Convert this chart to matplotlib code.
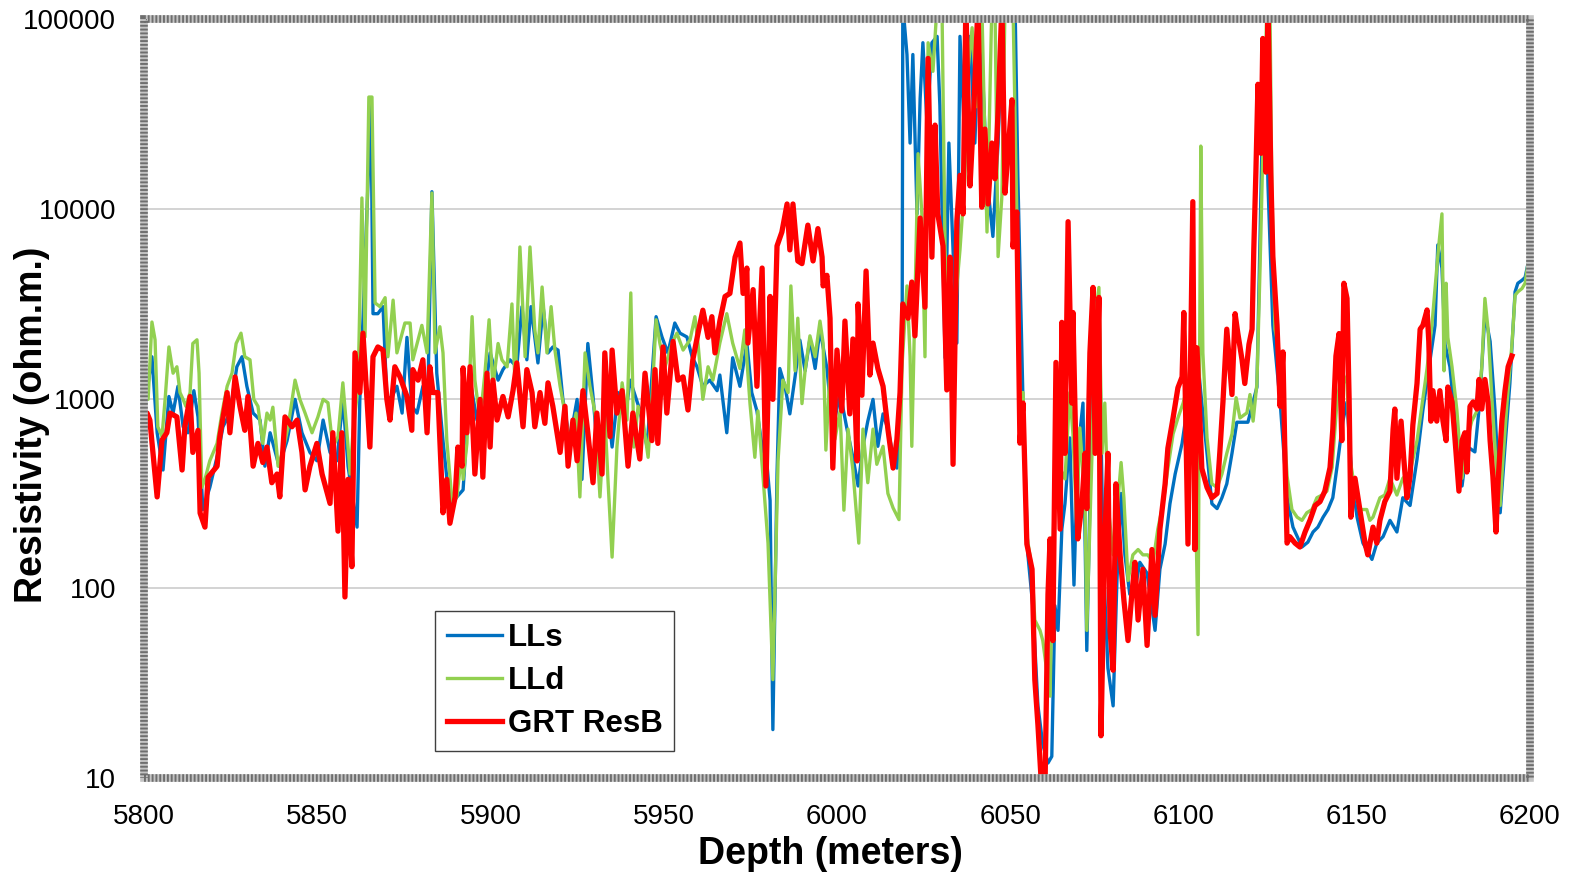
import matplotlib
matplotlib.use("Agg")
import matplotlib.pyplot as plt
from matplotlib.patches import Rectangle
from matplotlib.ticker import FixedLocator, FuncFormatter

# laterolog shallow (LLs)
lls_depth = [5800.0, 5802.3, 5803.8, 5805.5, 5807.2, 5808.4, 5809.8, 5811.3, 5812.7, 5814.4,
             5815.6, 5817.0, 5819.0, 5821.4, 5822.8, 5824.8, 5826.8, 5828.3, 5829.7, 5831.5,
             5833.5, 5834.9, 5836.4, 5839.0, 5841.3, 5843.6, 5845.6, 5847.9, 5849.9, 5851.7,
             5853.7, 5855.7, 5857.4, 5858.9, 5861.5, 5862.3, 5863.2, 5865.5, 5866.1, 5867.5,
             5869.0, 5870.1, 5871.6, 5873.0, 5874.5, 5875.9, 5877.3, 5878.8, 5880.5, 5881.9,
             5883.1, 5884.5, 5886.3, 5888.3, 5890.3, 5892.1, 5894.1, 5896.1, 5898.4, 5899.9,
             5902.2, 5903.6, 5905.6, 5907.6, 5909.1, 5910.5, 5911.7, 5913.7, 5915.2, 5916.6,
             5918.0, 5919.5, 5920.9, 5922.9, 5925.0, 5926.4, 5928.1, 5929.6, 5931.6, 5933.6,
             5935.1, 5936.8, 5938.8, 5940.3, 5943.1, 5945.2, 5947.8, 5949.5, 5951.2, 5953.2,
             5954.7, 5956.7, 5958.2, 5959.6, 5961.3, 5963.3, 5965.4, 5966.2, 5968.2, 5969.9,
             5972.0, 5974.0, 5975.4, 5976.9, 5978.4, 5979.8, 5980.7, 5981.5, 5982.7, 5983.5,
             5985.0, 5986.4, 5987.9, 5989.3, 5990.8, 5992.2, 5993.7, 5995.1, 5997.1, 5998.8,
             6000.9, 6002.9, 6004.6, 6006.1, 6007.5, 6008.9, 6010.4, 6011.8, 6013.3, 6014.7,
             6016.2, 6017.3, 6018.8, 6019.0, 6020.2, 6021.1, 6021.9, 6023.1, 6024.0, 6024.8,
             6026.0, 6027.4, 6028.9, 6029.7, 6031.2, 6032.3, 6033.5, 6034.6, 6035.5, 6036.9,
             6038.4, 6039.8, 6041.2, 6043.3, 6045.0, 6046.5, 6047.9, 6049.4, 6051.4, 6052.2,
             6053.7, 6055.1, 6056.5, 6058.0, 6059.4, 6060.9, 6062.0, 6062.9, 6063.8, 6064.9,
             6065.8, 6067.2, 6068.4, 6069.5, 6071.0, 6072.1, 6073.6, 6074.5, 6075.6, 6076.8,
             6078.2, 6079.7, 6080.8, 6082.0, 6083.1, 6084.5, 6086.0, 6087.4, 6089.5, 6091.8,
             6093.2, 6094.7, 6096.1, 6097.6, 6099.6, 6101.0, 6102.4, 6103.9, 6105.3, 6106.8,
             6108.2, 6109.7, 6111.1, 6112.5, 6114.0, 6115.4, 6116.9, 6118.6, 6121.2, 6122.6,
             6123.5, 6124.4, 6125.8, 6127.9, 6129.9, 6131.6, 6134.2, 6135.9, 6137.4, 6138.8,
             6140.3, 6141.7, 6143.1, 6144.6, 6146.0, 6147.2, 6148.6, 6150.1, 6151.8, 6154.4,
             6155.8, 6157.6, 6159.6, 6161.6, 6163.3, 6165.4, 6167.4, 6169.1, 6171.1, 6172.6,
             6173.4, 6174.6, 6175.5, 6176.9, 6178.4, 6180.4, 6181.8, 6184.1, 6185.5, 6187.0,
             6188.5, 6189.9, 6191.4, 6192.8, 6194.2, 6195.7, 6196.5, 6197.7, 6198.6, 6199.4,
             6200.5]
lls_ohmm = [838, 1660, 660, 420, 1025, 838, 1160, 710, 660, 1100,
            800, 260, 340, 520, 710, 838, 1470, 1660, 1160, 838,
            770, 440, 660, 440, 600, 990, 660, 520, 470, 770,
            520, 470, 990, 440, 210, 990, 2600, 36000, 2800, 2800,
            3050, 990, 1025, 1160, 838, 2100, 910, 838, 1160, 990,
            12300, 1360, 600, 265, 303, 330, 1250, 770, 1075, 1740,
            1250, 1420, 1600, 1470, 3050, 1600, 3050, 1540, 3050, 1740,
            1870, 1800, 990, 600, 990, 375, 1950, 1025, 375, 990,
            555, 1075, 770, 1250, 870, 555, 2700, 2110, 1740, 2500,
            2210, 2110, 1660, 1470, 1160, 1250, 1100, 1330, 660, 1640,
            1160, 1960, 1075, 860, 560, 450, 290, 18, 400, 1440,
            1160, 830, 1300, 2030, 1400, 2060, 1440, 2320, 1440, 690,
            1075, 690, 490, 346, 560, 760, 990, 560, 830, 690,
            500, 430, 1640, 120000, 65000, 22200, 65000, 9400, 38000, 75000,
            27600, 75000, 81000, 35000, 1640, 22200, 6070, 1960, 81000, 22200,
            81000, 22200, 120000, 14400, 7150, 22200, 120000, 120000, 120000, 14900,
            946, 150, 81, 24, 15, 12, 13, 81, 60, 205,
            279, 620, 104, 514, 946, 47, 946, 3250, 3300, 150,
            38, 24, 110, 316, 150, 93, 97, 137, 120, 60,
            126, 171, 279, 400, 580, 870, 1200, 1740, 946, 514,
            279, 263, 300, 355, 514, 750, 750, 750, 1150, 19600,
            63000, 13200, 2430, 960, 300, 210, 165, 175, 198, 210,
            237, 260, 300, 478, 760, 960, 380, 237, 173, 142,
            173, 187, 228, 198, 300, 273, 478, 870, 1560, 2430,
            6450, 4870, 1930, 1470, 760, 346, 560, 523, 960, 2800,
            2000, 870, 250, 560, 1200, 3650, 4050, 4200, 4350, 5100,
            2100]

# laterolog deep (LLd)
lld_depth = [5800.0, 5800.3, 5801.2, 5802.3, 5803.2, 5804.0, 5805.2, 5806.1, 5807.2, 5808.4,
             5809.5, 5810.4, 5811.3, 5812.1, 5813.3, 5814.1, 5815.3, 5815.9, 5816.7, 5817.6,
             5819.0, 5821.1, 5822.5, 5824.0, 5825.4, 5826.6, 5828.0, 5829.1, 5830.6, 5831.7,
             5832.9, 5834.3, 5835.5, 5836.4, 5837.2, 5838.7, 5840.1, 5841.6, 5843.6, 5845.0,
             5846.5, 5848.5, 5850.2, 5851.7, 5853.1, 5854.5, 5856.0, 5857.4, 5858.3, 5859.5,
             5860.3, 5861.8, 5862.9, 5863.8, 5864.9, 5865.8, 5866.7, 5868.1, 5869.6, 5870.4,
             5871.9, 5873.0, 5875.3, 5876.8, 5877.6, 5880.2, 5881.7, 5883.1, 5884.0, 5885.4,
             5886.3, 5887.4, 5888.9, 5890.3, 5891.8, 5892.1, 5893.2, 5894.7, 5895.5, 5897.0,
             5898.4, 5899.6, 5900.7, 5902.2, 5903.3, 5904.8, 5906.2, 5907.1, 5908.5, 5910.0,
             5911.4, 5912.8, 5913.7, 5914.9, 5916.3, 5917.5, 5918.6, 5920.1, 5921.5, 5922.9,
             5924.7, 5925.8, 5927.3, 5928.7, 5930.2, 5931.6, 5933.0, 5933.9, 5935.1, 5936.5,
             5938.0, 5939.4, 5940.5, 5941.4, 5942.6, 5944.0, 5945.5, 5946.6, 5947.8, 5948.9,
             5950.4, 5952.4, 5953.8, 5955.6, 5957.6, 5959.0, 5959.9, 5961.3, 5962.8, 5964.2,
             5966.2, 5968.2, 5969.9, 5972.0, 5973.4, 5974.9, 5976.3, 5977.2, 5978.6, 5980.1,
             5981.5, 5983.0, 5984.4, 5985.9, 5986.7, 5987.9, 5988.7, 5989.9, 5990.8, 5992.2,
             5993.7, 5995.1, 5996.0, 5996.8, 5998.0, 5999.4, 6000.9, 6002.0, 6003.2, 6004.6,
             6006.3, 6007.5, 6008.9, 6010.4, 6011.5, 6013.3, 6014.7, 6016.2, 6017.9, 6018.8,
             6020.2, 6021.1, 6021.6, 6022.5, 6023.4, 6024.5, 6025.4, 6026.3, 6027.7, 6028.9,
             6030.3, 6031.2, 6032.0, 6033.5, 6034.6, 6035.5, 6036.9, 6037.8, 6039.0, 6040.4,
             6041.8, 6043.3, 6044.7, 6045.6, 6046.5, 6047.6, 6048.5, 6049.9, 6050.8, 6051.9,
             6052.8, 6053.7, 6054.8, 6056.3, 6057.1, 6058.6, 6059.4, 6061.5, 6062.3, 6063.5,
             6064.4, 6065.8, 6067.2, 6068.1, 6069.2, 6070.1, 6071.6, 6072.1, 6073.6, 6074.5,
             6075.6, 6076.5, 6077.3, 6078.2, 6079.7, 6080.8, 6082.0, 6082.8, 6084.0, 6085.4,
             6086.9, 6088.3, 6089.7, 6091.2, 6092.6, 6094.1, 6095.5, 6097.0, 6098.4, 6099.9,
             6101.3, 6102.7, 6104.2, 6105.0, 6105.6, 6106.8, 6108.2, 6109.7, 6111.1, 6112.5,
             6114.0, 6115.2, 6116.3, 6118.3, 6119.2, 6120.1, 6121.2, 6122.1, 6122.9, 6124.1,
             6125.0, 6125.5, 6126.4, 6127.3, 6128.4, 6129.9, 6131.3, 6132.8, 6134.2, 6135.6,
             6137.1, 6138.5, 6140.0, 6141.4, 6142.9, 6144.3, 6145.7, 6147.2, 6148.1, 6149.5,
             6150.9, 6152.9, 6153.8, 6154.7, 6156.7, 6158.1, 6159.6, 6161.6, 6163.3, 6165.4,
             6167.4, 6168.8, 6170.3, 6171.7, 6173.1, 6173.7, 6174.6, 6175.2, 6175.8, 6176.3,
             6177.5, 6178.9, 6180.4, 6181.8, 6183.2, 6185.0, 6186.1, 6187.0, 6187.9, 6189.0,
             6190.5, 6191.4, 6192.2, 6193.4, 6194.8, 6195.7, 6196.5, 6197.7, 6198.6, 6199.4,
             6200.5]
lld_ohmm = [910, 1025, 990, 2530, 2040, 710, 630, 990, 1870, 1360,
            1470, 1075, 990, 910, 1075, 1950, 2040, 1360, 340, 375,
            470, 580, 838, 1160, 1360, 1950, 2210, 1660, 1600, 990,
            910, 580, 838, 770, 900, 440, 530, 710, 1250, 990,
            838, 660, 800, 990, 950, 555, 630, 1210, 770, 400,
            660, 1160, 11400, 2110, 38800, 38800, 3190, 3050, 3400, 1660,
            3300, 1740, 2500, 2500, 1600, 2430, 1740, 12100, 1740, 2390,
            1740, 600, 290, 303, 530, 375, 580, 2700, 1250, 770,
            1360, 2600, 1160, 1950, 1600, 1470, 3150, 1160, 6290, 1660,
            6290, 2300, 1740, 3870, 1740, 3050, 1800, 1160, 838, 555,
            838, 303, 1740, 1160, 838, 303, 838, 375, 146, 555,
            1210, 770, 3600, 555, 910, 770, 490, 990, 2600, 1950,
            1470, 1950, 2210, 1800, 2040, 2700, 1950, 990, 1470, 1250,
            1960, 2800, 1960, 1440, 2300, 940, 490, 860, 400, 173,
            33, 469, 1250, 1075, 3920, 1400, 2650, 940, 1400, 2140,
            1660, 2560, 1960, 535, 1400, 610, 860, 258, 690, 420,
            173, 690, 360, 690, 450, 560, 316, 265, 230, 1520,
            3920, 1660, 560, 3150, 19500, 9400, 1660, 75000, 53000, 120000,
            120000, 6070, 2560, 1660, 3920, 6070, 14400, 53000, 90000, 34500,
            120000, 7540, 120000, 120000, 5600, 11700, 120000, 120000, 120000, 9400,
            1075, 1075, 190, 126, 68, 60, 53, 27, 150, 1075,
            428, 377, 1075, 650, 215, 700, 280, 60, 514, 2690,
            3850, 514, 946, 280, 150, 250, 460, 300, 110, 150,
            160, 150, 150, 137, 205, 279, 428, 650, 790, 946,
            1200, 1850, 57, 21400, 1740, 620, 355, 340, 400, 514,
            650, 1010, 790, 840, 1050, 760, 1200, 4870, 19600, 120000,
            100000, 13000, 2320, 1930, 1200, 390, 260, 237, 228, 250,
            260, 300, 310, 325, 433, 960, 1400, 1200, 478, 325,
            260, 260, 228, 237, 300, 310, 380, 310, 380, 410,
            600, 910, 1440, 2430, 4870, 6450, 9400, 1400, 4050, 2100,
            1470, 870, 380, 600, 760, 880, 1470, 3370, 2320, 1010,
            380, 273, 478, 960, 1930, 3500, 3650, 3800, 4050, 5100,
            1930]

# GRT ResB
grt_depth = [5800.0, 5800.9, 5801.7, 5803.8, 5805.2, 5806.6, 5807.5, 5809.5, 5811.0, 5811.8,
             5813.3, 5814.1, 5815.6, 5816.2, 5817.6, 5818.5, 5821.1, 5821.9, 5824.0, 5824.8,
             5826.3, 5827.7, 5829.1, 5830.0, 5831.5, 5832.9, 5834.3, 5835.5, 5836.9, 5838.4,
             5839.2, 5840.7, 5842.7, 5844.2, 5845.6, 5846.5, 5847.9, 5849.9, 5851.4, 5853.7,
             5854.5, 5856.0, 5857.1, 5858.0, 5858.9, 5860.0, 5860.9, 5862.3, 5863.2, 5865.2,
             5866.1, 5867.5, 5869.0, 5870.1, 5871.0, 5872.4, 5873.9, 5875.9, 5877.3, 5877.6,
             5879.1, 5880.5, 5881.7, 5882.5, 5883.4, 5884.8, 5886.3, 5887.4, 5888.3, 5889.8,
             5890.6, 5891.8, 5892.1, 5893.2, 5894.1, 5895.5, 5897.0, 5897.8, 5899.0, 5899.9,
             5900.7, 5901.9, 5903.6, 5905.1, 5906.5, 5907.6, 5909.4, 5910.5, 5912.0, 5912.8,
             5914.3, 5915.7, 5916.6, 5918.0, 5920.1, 5921.5, 5922.4, 5923.8, 5925.0, 5926.7,
             5928.1, 5929.6, 5930.7, 5932.2, 5933.0, 5934.5, 5935.1, 5936.5, 5938.0, 5939.7,
             5941.1, 5943.1, 5944.6, 5946.6, 5947.5, 5948.3, 5949.8, 5950.9, 5952.7, 5954.1,
             5955.6, 5957.0, 5958.4, 5959.9, 5961.3, 5962.8, 5963.9, 5964.8, 5966.2, 5967.7,
             5969.1, 5970.6, 5972.0, 5972.9, 5974.0, 5974.3, 5975.8, 5976.9, 5978.4, 5979.5,
             5980.7, 5981.5, 5982.7, 5984.1, 5985.6, 5986.4, 5987.3, 5988.7, 5989.9, 5991.6,
             5993.1, 5994.5, 5995.7, 5996.0, 5997.1, 5998.0, 5998.8, 6000.0, 6001.4, 6002.3,
             6003.7, 6004.6, 6005.8, 6006.1, 6007.2, 6008.4, 6009.5, 6010.4, 6011.8, 6013.3,
             6014.7, 6016.2, 6017.3, 6018.2, 6019.0, 6020.5, 6021.6, 6022.5, 6024.0, 6025.4,
             6026.3, 6027.4, 6028.3, 6029.1, 6030.6, 6031.7, 6032.6, 6033.5, 6034.6, 6035.5,
             6036.4, 6037.2, 6038.4, 6039.3, 6040.7, 6041.8, 6042.7, 6043.6, 6044.7, 6045.6,
             6046.5, 6047.6, 6048.5, 6049.4, 6050.5, 6050.8, 6051.9, 6052.8, 6053.7, 6054.8,
             6056.3, 6057.1, 6058.0, 6059.2, 6060.0, 6060.9, 6061.5, 6062.3, 6063.2, 6064.4,
             6064.9, 6065.8, 6066.7, 6067.8, 6068.1, 6069.5, 6070.7, 6071.6, 6072.1, 6073.0,
             6073.9, 6074.5, 6075.6, 6076.2, 6077.3, 6078.2, 6078.8, 6079.7, 6080.5, 6081.7,
             6082.8, 6084.0, 6085.1, 6086.0, 6086.9, 6088.3, 6089.5, 6090.9, 6091.8, 6093.2,
             6094.7, 6095.5, 6097.0, 6098.4, 6099.6, 6100.1, 6101.3, 6102.7, 6103.3, 6103.9,
             6105.3, 6106.8, 6108.2, 6109.7, 6110.5, 6111.4, 6112.5, 6114.0, 6114.9, 6115.7,
             6116.9, 6117.7, 6118.9, 6119.8, 6120.3, 6120.9, 6121.5, 6122.4, 6122.9, 6123.8,
             6124.4, 6125.2, 6125.8, 6127.0, 6127.9, 6128.7, 6129.3, 6129.9, 6130.7, 6132.2,
             6133.6, 6135.1, 6136.5, 6138.0, 6139.4, 6140.8, 6142.3, 6143.1, 6144.0, 6144.9,
             6145.7, 6146.3, 6147.2, 6147.8, 6148.3, 6149.5, 6150.9, 6152.4, 6153.2, 6154.7,
             6155.8, 6156.7, 6158.1, 6159.6, 6160.5, 6161.0, 6161.6, 6162.8, 6163.6, 6164.5,
             6165.4, 6166.2, 6167.4, 6168.3, 6169.1, 6170.3, 6170.8, 6171.4, 6172.0, 6173.1,
             6174.0, 6174.9, 6175.8, 6176.3, 6177.5, 6178.4, 6179.5, 6180.4, 6181.2, 6181.8,
             6182.7, 6183.6, 6184.7, 6185.3, 6186.1, 6187.0, 6187.9, 6188.5, 6189.3, 6190.2,
             6190.8, 6191.9, 6192.8, 6193.7, 6194.8]
grt_ohmm = [604, 838, 770, 303, 604, 660, 838, 800, 420, 710,
            1025, 520, 680, 249, 210, 385, 440, 630, 1075, 660,
            1300, 910, 680, 1025, 440, 580, 460, 555, 360, 400,
            303, 800, 710, 770, 520, 330, 440, 580, 400, 280,
            660, 200, 660, 90, 375, 130, 1740, 1075, 2210, 555,
            1660, 1870, 1800, 990, 770, 1470, 1300, 1025, 680, 1420,
            1250, 1600, 660, 1470, 1075, 1075, 250, 375, 220, 303,
            555, 440, 1450, 660, 1470, 400, 990, 385, 1360, 555,
            1250, 770, 1025, 800, 1100, 1540, 710, 1420, 1075, 710,
            1075, 740, 1210, 910, 520, 910, 440, 770, 470, 1100,
            660, 360, 838, 400, 1740, 630, 1800, 838, 1100, 440,
            838, 480, 1360, 600, 1420, 580, 1870, 838, 2000, 1250,
            1300, 870, 1600, 2210, 2920, 2100, 2700, 1740, 2560, 3450,
            3580, 5560, 6600, 3580, 4870, 1960, 3750, 1160, 4870, 346,
            3450, 990, 6370, 7540, 10600, 6070, 10600, 5310, 5140, 8200,
            5310, 7860, 5560, 3920, 4460, 2650, 430, 1800, 860, 2560,
            830, 2060, 469, 3150, 1040, 4700, 1330, 1960, 1440, 1160,
            690, 430, 610, 1075, 3150, 2650, 4110, 2140, 8930, 3030,
            62000, 5560, 27600, 9400, 6370, 1110, 5560, 450, 8600, 15000,
            9400, 120000, 13200, 27600, 120000, 10200, 26300, 10600, 22200, 14400,
            32800, 120000, 12100, 20400, 37500, 6290, 9620, 582, 946, 171,
            126, 33, 19, 8, 8, 93, 182, 53, 1550, 205,
            2520, 514, 8550, 946, 2840, 182, 279, 514, 263, 1740,
            3850, 514, 3410, 16.7, 182, 514, 60, 37, 355, 151,
            87, 53, 93, 137, 68, 126, 50, 160, 72, 205,
            355, 547, 790, 1140, 1300, 2840, 171, 10900, 160, 1850,
            428, 340, 300, 316, 523, 960, 2320, 1050, 2800, 2200,
            1600, 1200, 1930, 2320, 6150, 15600, 45300, 19600, 79000, 15600,
            120000, 15600, 5600, 2430, 910, 1760, 478, 173, 187, 173,
            165, 198, 228, 273, 286, 325, 433, 690, 1675, 2200,
            600, 4050, 3370, 1010, 237, 380, 260, 173, 150, 210,
            173, 228, 286, 325, 690, 880, 380, 760, 478, 300,
            390, 725, 1200, 2320, 2430, 2930, 2000, 760, 1100, 760,
            1100, 760, 600, 1150, 960, 600, 325, 600, 660, 410,
            910, 960, 880, 1260, 880, 1260, 960, 600, 390, 198,
            365, 760, 1100, 1470, 1675]

x_ticks = [5800, 5850, 5900, 5950, 6000, 6050, 6100, 6150, 6200]
y_ticks = [10, 100, 1000, 10000, 100000]

plt.rcParams['font.family'] = ['Liberation Sans', 'DejaVu Sans']

fig = plt.figure(figsize=(15.7, 8.73), dpi=100)
ax = fig.add_axes([0.0917, 0.1088, 0.8828, 0.8694])

ax.plot(lls_depth, lls_ohmm, color='#0070C0', lw=2.4, label='LLs', zorder=3)
ax.plot(lld_depth, lld_ohmm, color='#92D050', lw=2.4, label='LLd', zorder=4)
ax.plot(grt_depth, grt_ohmm, color='#FF0000', lw=3.8, label='GRT ResB', zorder=5)

ax.set_yscale('log')
ax.set_xlim(5800, 6200)
ax.set_ylim(10, 100000)
ax.xaxis.set_major_locator(FixedLocator(x_ticks))
ax.yaxis.set_major_locator(FixedLocator(y_ticks))
ax.yaxis.set_minor_locator(FixedLocator([]))
ax.yaxis.set_major_formatter(FuncFormatter(lambda v, p: f"{int(round(v))}"))
ax.tick_params(axis='both', length=0, labelsize=20)
ax.tick_params(axis='y', pad=20)
ax.tick_params(axis='x', pad=19)
ax.grid(axis='y', color='#d0d0d0', lw=1.3, zorder=0)
ax.set_axisbelow(True)

ax.set_xlabel('Depth (meters)', fontsize=27, fontweight='bold')
ax.set_ylabel('Resistivity (ohm.m.)', fontsize=27, fontweight='bold')
ax.xaxis.set_label_coords(0.495, -0.077)
ax.yaxis.set_label_coords(-0.068, 0.466)

# patterned plot-area border
for s in ax.spines.values():
    s.set_visible(False)
ax.add_patch(Rectangle((0, 0), 1, 1, transform=ax.transAxes, fill=False,
                       edgecolor='#c4c4c4', lw=5.5, clip_on=False, zorder=6))
ax.add_patch(Rectangle((0, 0), 1, 1, transform=ax.transAxes, fill=False,
                       edgecolor='#6e6e6e', lw=5.5, ls=(0, (0.25, 0.25)),
                       clip_on=False, zorder=7))

leg = ax.legend(loc='lower left', bbox_to_anchor=(0.21, 0.036), borderaxespad=0,
                fancybox=False, framealpha=1, edgecolor='#404040',
                prop={'size': 22.5, 'weight': 'bold'}, handlelength=1.75,
                handletextpad=0.2, labelspacing=0.42, borderpad=0.38)
leg.get_frame().set_linewidth(1.0)
leg.set_zorder(10)

fig.savefig('out.png', dpi=100)
